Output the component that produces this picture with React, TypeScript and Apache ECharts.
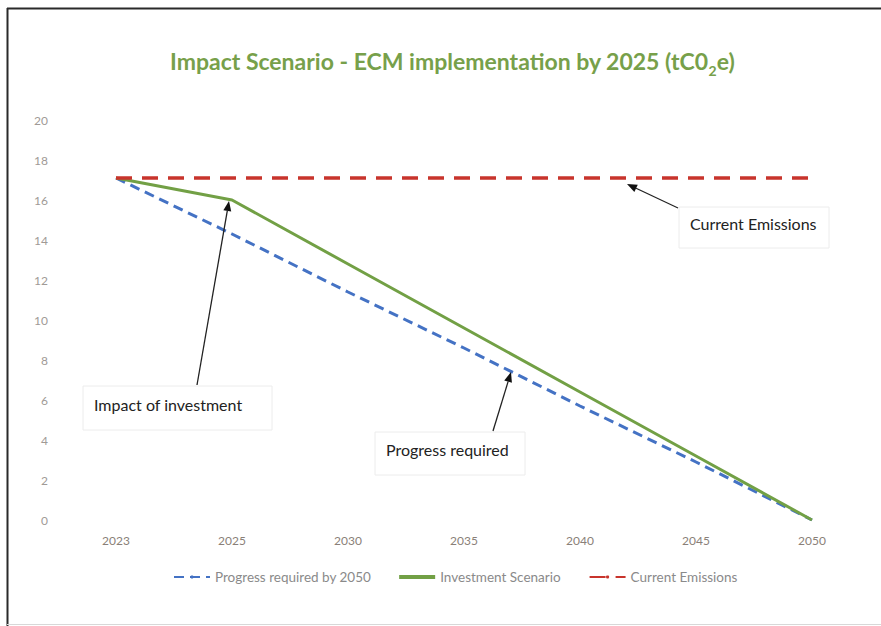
import React, { useEffect, useRef } from "react";
import * as echarts from "echarts";

const years = ["2023", "2025", "2030", "2035", "2040", "2045", "2050"];
const progressRequired = [17.1, 14.3, 11.4, 8.6, 5.7, 2.9, 0];
const investmentScenario = [17.1, 16.0, 12.8, 9.6, 6.4, 3.2, 0];
const currentEmissions = [17.1, 17.1, 17.1, 17.1, 17.1, 17.1, 17.1];

const FONT = "Lato, 'Open Sans', sans-serif";

function arrow(x1: number, y1: number, x2: number, y2: number) {
  const ang = Math.atan2(y2 - y1, x2 - x1);
  const L = 10, W = 4;
  const bx = x2 - L * Math.cos(ang), by = y2 - L * Math.sin(ang);
  const px = -Math.sin(ang) * W, py = Math.cos(ang) * W;
  return [
    { type: "line", shape: { x1, y1, x2: bx, y2: by }, style: { stroke: "#222", lineWidth: 1.3 }, z: 100 },
    { type: "polygon", shape: { points: [[x2, y2], [bx + px, by + py], [bx - px, by - py]] }, style: { fill: "#111" }, z: 100 },
  ];
}

function box(x: number, y: number, w: number, h: number, ty: number, text: string) {
  return [
    { type: "rect", shape: { x, y, width: w, height: h }, style: { fill: "#fff", stroke: "#ececec", lineWidth: 1 }, z: 99 },
    {
      type: "text", x: x + 11, y: y + ty, z: 101,
      style: { text, fill: "#222", font: `16px ${FONT}`, verticalAlign: "middle" },
    },
  ];
}

export default function App() {
  const ref = useRef<HTMLDivElement>(null);
  useEffect(() => {
    document.body.style.margin = "0";
    const chart = echarts.init(ref.current!, null, { renderer: "svg" });
    chart.setOption({
      animation: false,
      backgroundColor: "#fff",
      grid: { left: 116, right: 69, top: 120, bottom: 106 },
      xAxis: {
        type: "category",
        data: years,
        boundaryGap: false,
        axisLine: { show: false },
        axisTick: { show: false },
        splitLine: { show: false },
        axisLabel: { color: "#8a7f78", fontSize: 12, fontFamily: FONT, margin: 14 },
      },
      yAxis: {
        type: "value",
        min: 0,
        max: 20,
        interval: 2,
        axisLine: { show: false },
        axisTick: { show: false },
        splitLine: { show: false },
        axisLabel: { color: "#a09a96", fontSize: 12, fontFamily: FONT, margin: 68 },
      },
      legend: {
        top: 565,
        left: 168,
        itemWidth: 36,
        itemHeight: 4,
        itemGap: 28,
        textStyle: { color: "#8a8a8a", fontSize: 13.5, fontFamily: FONT },
        data: [
          { name: "Progress required by 2050" },
          { name: "Investment Scenario", icon: "rect" },
          { name: "Current Emissions" },
        ],
      },
      series: [
        {
          name: "Progress required by 2050",
          type: "line",
          data: progressRequired,
          symbol: "none",
          color: "#4472C4",
          lineStyle: { color: "#4472C4", width: 3, type: [10, 6] },
          z: 3,
        },
        {
          name: "Investment Scenario",
          type: "line",
          data: investmentScenario,
          symbol: "none",
          color: "#72A045",
          lineStyle: { color: "#72A045", width: 3 },
          z: 4,
        },
        {
          name: "Current Emissions",
          type: "line",
          data: currentEmissions,
          symbol: "none",
          color: "#C8342C",
          lineStyle: { color: "#C8342C", width: 3.5, type: [16, 10] },
          z: 5,
        },
      ],
      graphic: [
        { type: "line", shape: { x1: 7, y1: 8.5, x2: 881, y2: 8.5 }, style: { stroke: "#2a2a2a", lineWidth: 2 } },
        { type: "line", shape: { x1: 7.5, y1: 8, x2: 7.5, y2: 626 }, style: { stroke: "#2a2a2a", lineWidth: 2 } },
        { type: "line", shape: { x1: 7, y1: 624.5, x2: 881, y2: 624.5 }, style: { stroke: "#d8d8d8", lineWidth: 1 } },
        {
          type: "text",
          left: 170,
          top: 49,
          style: {
            text: "{t|Impact Scenario - ECM implementation by 2025 (tC0}{s|2}{t|e)}",
            rich: {
              t: { fill: "#77A04A", font: `bold 23px ${FONT}`, verticalAlign: "bottom" },
              s: { fill: "#77A04A", font: `bold 14px ${FONT}`, verticalAlign: "bottom", padding: [0, 0, -5, 0] },
            },
          },
        },
        ...box(679, 207, 150, 41, 16, "Current Emissions"),
        ...arrow(678, 208, 627, 184),
        ...box(83, 386, 189, 44, 18, "Impact of investment"),
        ...arrow(197, 385, 229, 201),
        ...box(375, 432, 150, 43, 17, "Progress required"),
        ...arrow(493, 431, 511, 372),
      ],
    });
    return () => chart.dispose();
  }, []);
  return <div ref={ref} style={{ width: 881, height: 626 }} />;
}
